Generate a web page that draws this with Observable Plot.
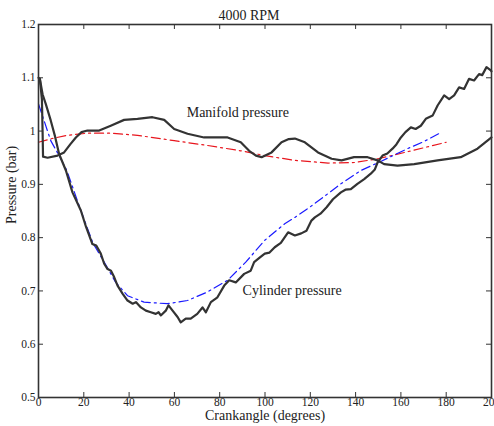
<!DOCTYPE html>
<html>
<head>
<meta charset="utf-8">
<script src="https://cdn.jsdelivr.net/npm/d3@7"></script>
<script src="https://cdn.jsdelivr.net/npm/@observablehq/plot@0.6"></script>
<style>
  html, body { margin: 0; padding: 0; background: #fff; }
  svg { display: block; }
  svg text { font-family: "Liberation Serif", "DejaVu Serif", serif; }
</style>
</head>
<body>
<div id="chart"></div>
<script>
const title = "4000 RPM";
const xLabel = "Crankangle (degrees)";
const yLabel = "Pressure (bar)";

const xTicks = [0, 20, 40, 60, 80, 100, 120, 140, 160, 180, 200];
const yTicks = [0.5, 0.6, 0.7, 0.8, 0.9, 1.0, 1.1, 1.2];
const yTickLabels = ["0.5", "0.6", "0.7", "0.8", "0.9", "1", "1.1", "1.2"];

// Measured cylinder pressure (black, noisy)
const cylAngle = [0, 0.6, 1.8, 3.2, 5.4, 7.3, 9.1, 12.1, 15, 18.7, 21, 23.8, 25.5, 27.5, 29, 30.5, 32, 33.4, 34.9, 37.1, 39.3, 41.6, 43, 45.2, 47.4, 49.6, 51.8, 53, 54, 56.2, 57.4, 59.2, 61.4, 62.8, 65, 67.2, 70.1, 72.4, 73.9, 76.1, 79, 82, 84.2, 87.1, 90.8, 93.7, 95.2, 97.5, 99.9, 102, 104.3, 107, 110.2, 113.2, 116, 118.3, 120.5, 122, 124.5, 127.2, 130, 133.5, 135.5, 137.9, 140.8, 143.8, 146.7, 148.5, 149.7, 151.9, 154, 156.3, 158, 160, 162, 164.4, 166.5, 168.8, 171, 174, 176.2, 179.1, 181.3, 183.5, 185.7, 187.9, 190.1, 192.3, 194.5, 195.9, 197.8, 199.7, 200];
const cylPressure = [1.10, 1.098, 1.069, 1.051, 1.02, 0.99, 0.957, 0.926, 0.885, 0.851, 0.82, 0.788, 0.785, 0.770, 0.751, 0.741, 0.738, 0.726, 0.71, 0.695, 0.682, 0.676, 0.679, 0.669, 0.663, 0.66, 0.657, 0.660, 0.654, 0.663, 0.673, 0.663, 0.651, 0.641, 0.648, 0.648, 0.657, 0.669, 0.66, 0.679, 0.688, 0.71, 0.72, 0.716, 0.732, 0.738, 0.754, 0.762, 0.770, 0.772, 0.782, 0.790, 0.810, 0.804, 0.808, 0.813, 0.832, 0.838, 0.845, 0.857, 0.872, 0.885, 0.890, 0.891, 0.901, 0.910, 0.92, 0.928, 0.941, 0.954, 0.958, 0.967, 0.975, 0.988, 0.998, 1.007, 1.004, 1.01, 1.023, 1.029, 1.048, 1.067, 1.060, 1.067, 1.082, 1.079, 1.098, 1.095, 1.107, 1.105, 1.120, 1.114, 1.112];

// Measured manifold pressure (black, smooth)
const manAngle = [0.6, 1.5, 1.8, 2.0, 4, 8.4, 11.3, 14, 16.5, 19, 21.6, 26.8, 31.9, 37.8, 43.7, 50.3, 55.5, 59.9, 65.8, 73.1, 83.5, 89.3, 93, 96, 98.5, 102.9, 107.3, 110.5, 113.2, 117.6, 123.4, 129.4, 133.8, 139.3, 145.3, 149.7, 152.6, 158.5, 165.9, 176.2, 186.4, 193.8, 200];
const manPressure = [1.098, 1.06, 1.0, 0.952, 0.950, 0.954, 0.960, 0.975, 0.988, 0.998, 1.001, 1.001, 1.010, 1.021, 1.023, 1.026, 1.021, 1.004, 0.995, 0.988, 0.988, 0.979, 0.963, 0.954, 0.951, 0.960, 0.979, 0.985, 0.986, 0.979, 0.960, 0.948, 0.945, 0.951, 0.951, 0.945, 0.938, 0.935, 0.938, 0.945, 0.951, 0.967, 0.988];

// Model manifold pressure (red dash-dot)
const manModelAngle = [0, 6, 12.8, 21.6, 32, 43.7, 59.9, 74.6, 89.3, 99.9, 113.2, 127.9, 139.7, 149.9, 164.6, 180];
const manModelPressure = [0.979, 0.986, 0.992, 0.996, 0.996, 0.992, 0.982, 0.973, 0.963, 0.954, 0.945, 0.940, 0.941, 0.948, 0.963, 0.979];

// Model cylinder pressure (blue dash-dot)
const cylModelAngle = [0, 5.4, 9.1, 12.5, 18.7, 24, 29, 34.1, 39.3, 46.6, 56.9, 65.8, 74.6, 83.5, 91.5, 99.9, 108.7, 113.2, 120, 127, 133.5, 142.3, 151.1, 162.9, 170, 178];
const cylModelPressure = [1.051, 0.982, 0.954, 0.926, 0.851, 0.79, 0.754, 0.716, 0.691, 0.679, 0.676, 0.682, 0.698, 0.72, 0.754, 0.795, 0.826, 0.838, 0.858, 0.880, 0.901, 0.926, 0.943, 0.967, 0.980, 0.998];

const annotations = ["Manifold pressure", "Cylinder pressure"];
const annotationAngle = [88, 112];
const annotationPressure = [1.035, 0.70];

const toRows = (xs, ys) => xs.map((x, i) => ({x, y: ys[i]}));
const cyl = toRows(cylAngle, cylPressure);
const man = toRows(manAngle, manPressure);
const manModel = toRows(manModelAngle, manModelPressure);
const cylModel = toRows(cylModelAngle, cylModelPressure);
const notes = annotations.map((t, i) => ({t, x: annotationAngle[i], y: annotationPressure[i]}));

const W = 494, H = 426;
const mT = 24, mB = 29, mL = 38, mR = 3;
const plotH = H - mT - mB, plotW = W - mL - mR;
const tick = 5;
const ink = "#333";
const serif = "'Liberation Serif', 'DejaVu Serif', serif";
const txt = "#222";

const chart = Plot.plot({
  width: W,
  height: H,
  marginTop: mT,
  marginBottom: mB,
  marginLeft: mL,
  marginRight: mR,
  style: {fontFamily: serif, fontSize: "12px", color: txt, background: "#fff"},
  x: {domain: [0, 200]},
  y: {domain: [0.5, 1.2]},
  marks: [
    // inward ticks on all four sides
    Plot.tickX(xTicks, {x: d => d, insetTop: plotH - tick, stroke: ink, strokeWidth: 1}),
    Plot.tickX(xTicks, {x: d => d, insetBottom: plotH - tick, stroke: ink, strokeWidth: 1}),
    Plot.tickY(yTicks, {y: d => d, insetRight: plotW - tick, stroke: ink, strokeWidth: 1}),
    Plot.tickY(yTicks, {y: d => d, insetLeft: plotW - tick, stroke: ink, strokeWidth: 1}),
    Plot.axisX({ticks: xTicks, tickSize: 0, tickPadding: 0, label: null, fontSize: 11.5, fontFamily: serif, fill: txt}),
    Plot.axisY({ticks: yTicks, tickSize: 0, tickPadding: 3, tickFormat: (d, i) => yTickLabels[i], label: null, fontSize: 11.5, fontFamily: serif, fill: txt}),
    Plot.text([xLabel], {frameAnchor: "bottom", lineAnchor: "middle", dy: 18.5, fontSize: 14, fontFamily: serif, fill: txt}),
    Plot.text([yLabel], {frameAnchor: "left", dx: -27, dy: 13, rotate: -90, fontSize: 14, fontFamily: serif, fill: txt}),
    Plot.text([title], {frameAnchor: "top", dx: -16, dy: -5, lineAnchor: "bottom", fontSize: 14, fontFamily: serif, fill: txt}),
    // model curves
    Plot.line(manModel, {x: "x", y: "y", stroke: "#e8161e", strokeWidth: 1.2, strokeDasharray: "9,4,2,4"}),
    Plot.line(cylModel, {x: "x", y: "y", stroke: "#1a1aff", strokeWidth: 1.2, strokeDasharray: "9,4,2,4"}),
    // measured curves
    Plot.line(man, {x: "x", y: "y", stroke: ink, strokeWidth: 2.2}),
    Plot.line(cyl, {x: "x", y: "y", stroke: ink, strokeWidth: 2.2}),
    Plot.text(notes, {x: "x", y: "y", text: "t", fontSize: 14, fontFamily: serif, fill: txt}),
    Plot.frame({stroke: ink, strokeWidth: 1.6})
  ]
});
document.getElementById("chart").appendChild(chart);
</script>
</body>
</html>
